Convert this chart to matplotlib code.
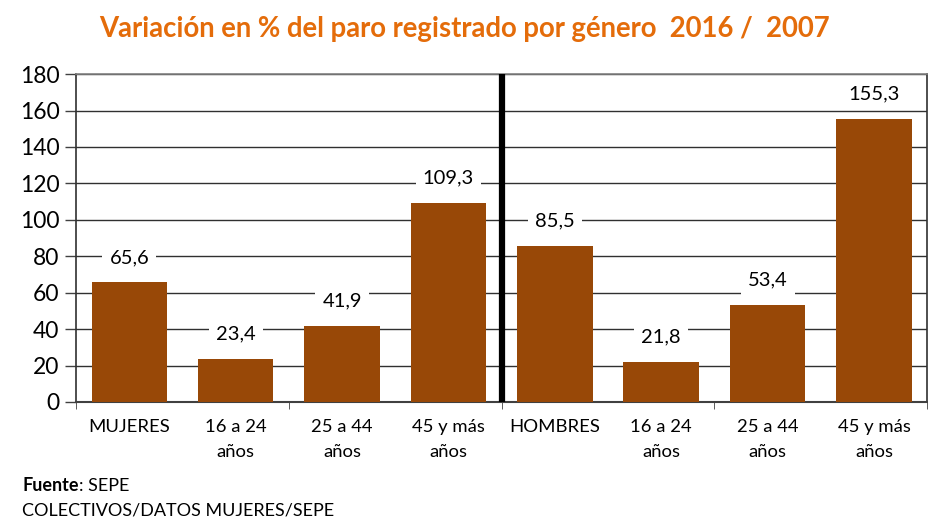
import matplotlib.pyplot as plt
import numpy as np

# Datos: variación en % del paro registrado 2016/2007
categorias = ["MUJERES", "16 a 24\naños", "25 a 44\naños", "45 y más\naños",
              "HOMBRES", "16 a 24\naños", "25 a 44\naños", "45 y más\naños"]
variacion = [65.6, 23.4, 41.9, 109.3, 85.5, 21.8, 53.4, 155.3]
yticks = [0, 20, 40, 60, 80, 100, 120, 140, 160, 180]

plt.rcParams['font.family'] = ['Lato', 'DejaVu Sans']

fig = plt.figure(figsize=(9.29, 5.22), dpi=100)
ax = fig.add_axes([0.082, 0.23, 0.916, 0.628])

x = np.arange(len(categorias))
ax.bar(x, variacion, width=0.71, color='#984807', zorder=3)

# etiquetas de valor con fondo blanco
for xi, v in zip(x, variacion):
    etiqueta = f"{v:.1f}".replace('.', ',')
    ax.annotate(etiqueta, (xi, v), textcoords="offset points", xytext=(0, 18),
                ha='center', va='center', fontsize=14.5, color='black', zorder=5,
                bbox=dict(boxstyle='square,pad=0.35', fc='white', ec='none'))

# separador entre mujeres y hombres
ax.plot([3.5, 3.5], [0, 180], color='black', linewidth=4.5, zorder=4,
        solid_capstyle='butt')

ax.set_xlim(-0.5, 7.5)
ax.set_ylim(0, 180)
ax.set_yticks(yticks)
ax.set_yticklabels([str(t) for t in yticks], fontsize=16.5)
ax.tick_params(axis='y', direction='out', length=8, width=1, pad=4, color='#404040')
ax.yaxis.grid(True, color='#303030', linewidth=1, zorder=1)
ax.set_axisbelow(True)

ax.set_xticks(x)
ax.set_xticklabels(categorias, fontsize=13.3, linespacing=1.75, va='top')
ax.tick_params(axis='x', which='major', length=0, pad=12)
ax.set_xticks([-0.5, 1.5, 3.5, 5.5, 7.5], minor=True)
ax.tick_params(axis='x', which='minor', direction='out', length=5, color='#404040')

for lado in ['left', 'right']:
    ax.spines[lado].set_color('#303030')
    ax.spines[lado].set_linewidth(1.2)
ax.spines['bottom'].set_color('#404040')
ax.spines['bottom'].set_linewidth(1.5)
ax.spines['top'].set_color('#808080')
ax.spines['top'].set_linewidth(1.2)

fig.text(0.5, 0.945, "Variación en % del paro registrado por género  2016 /  2007",
         ha='center', va='center', fontsize=19.8, fontweight='bold', color='#E46C0A')

# fuente
t1 = fig.text(0.024, 0.069, "Fuente", fontsize=13, fontweight='bold', va='center')
fig.canvas.draw()
bb = t1.get_window_extent()
fig.text(bb.x1 / fig.bbox.width, 0.069, ": SEPE", fontsize=13, va='center')
fig.text(0.024, 0.022, "COLECTIVOS/DATOS MUJERES/SEPE", fontsize=13, va='center')

fig.savefig("out.png", dpi=100)
